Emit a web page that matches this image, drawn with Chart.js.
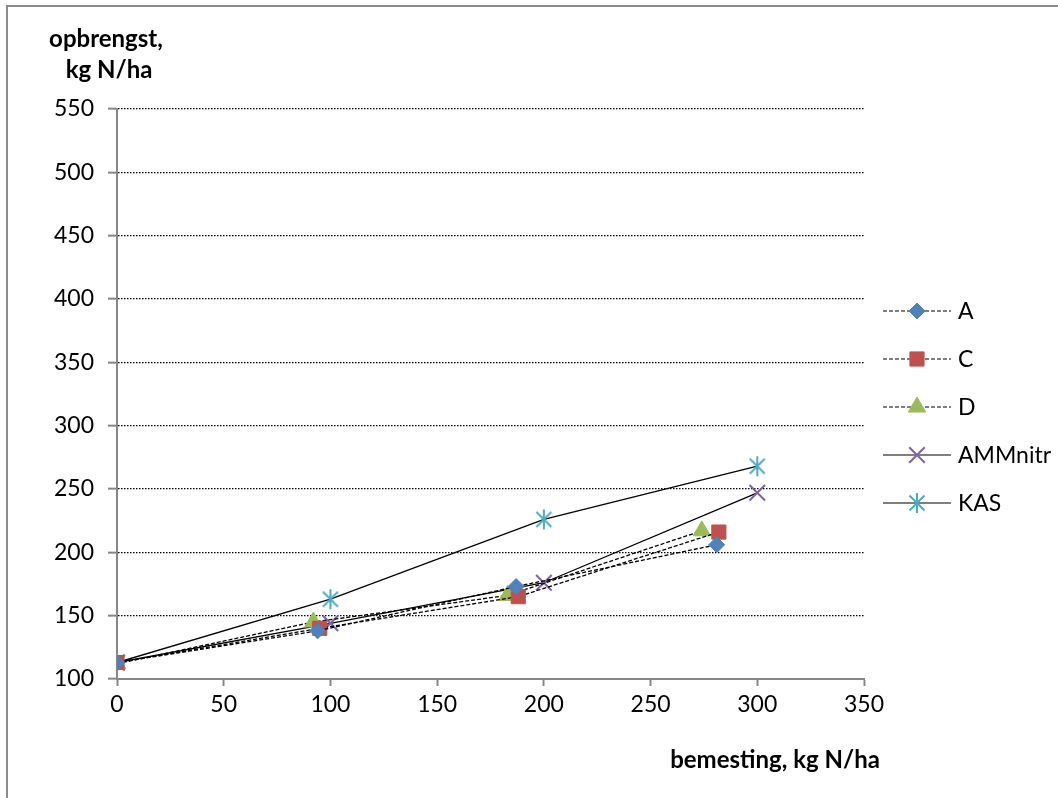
<!DOCTYPE html>
<html>
<head>
<meta charset="utf-8">
<script src="https://cdn.jsdelivr.net/npm/chart.js"></script>
<style>
  html, body { margin: 0; padding: 0; background: #fff; }
  #wrap { position: relative; width: 1058px; height: 798px; overflow: hidden; }
</style>
</head>
<body>
<div id="wrap"><canvas id="chart" width="1058" height="798"></canvas></div>
<script>
// series data
const seriesNames = ["A", "C", "D", "AMMnitr", "KAS"];
const xA = [0, 94, 187, 281];
const yA = [113, 138, 173, 206];
const xC = [0, 95, 188, 282];
const yC = [113, 140, 165, 216];
const xD = [0, 92, 183, 274];
const yD = [112, 145, 166, 217];
const xAmm = [0, 100, 200, 300];
const yAmm = [113, 144, 176, 247];
const xKas = [0, 100, 200, 300];
const yKas = [113, 163, 226, 268];

const xTicks = [0, 50, 100, 150, 200, 250, 300, 350];
const yTicks = [100, 150, 200, 250, 300, 350, 400, 450, 500, 550];

const yTitle = ["opbrengst,", "kg N/ha"];
const xTitle = "bemesting, kg N/ha";

const FONT = "Lato, 'Open Sans', sans-serif";

// Excel style asterisk marker (vertical stroke + X)
const makeStar = (color) => {
  const c = document.createElement("canvas");
  c.width = 24;
  c.height = 24;
  const g = c.getContext("2d");
  g.strokeStyle = color;
  g.lineWidth = 2;
  g.beginPath();
  g.moveTo(12, 2); g.lineTo(12, 22);
  g.moveTo(4.5, 4.5); g.lineTo(19.5, 19.5);
  g.moveTo(19.5, 4.5); g.lineTo(4.5, 19.5);
  g.stroke();
  return c;
};

const toPoints = (xs, ys) => xs.map((x, i) => ({ x: x, y: ys[i] }));

const styles = [
  { color: "#4F81BD", point: "rectRot", radius: 8, dash: [4, 2] },
  { color: "#C0504D", point: "rect", radius: 10, dash: [4, 2] },
  { color: "#9BBB59", point: "triangle", radius: 10, dash: [4, 2] },
  { color: "#8064A2", point: "crossRot", radius: 11, dash: [] },
  { color: "#4BACC6", point: makeStar("#4BACC6"), radius: 12, dash: [] },
];

const allData = [
  toPoints(xA, yA),
  toPoints(xC, yC),
  toPoints(xD, yD),
  toPoints(xAmm, yAmm),
  toPoints(xKas, yKas),
];

const datasets = seriesNames.map((name, i) => ({
  label: name,
  data: allData[i],
  showLine: true,
  borderColor: "#000",
  borderWidth: 1.3,
  borderDash: styles[i].dash,
  pointStyle: styles[i].point,
  pointRadius: styles[i].radius,
  pointHoverRadius: styles[i].radius,
  pointBackgroundColor: styles[i].color,
  pointBorderColor: styles[i].color,
  pointBorderWidth: i >= 3 ? 2 : 1,
}));

// frame, axis titles and the legend
const decorations = {
  id: "decorations",
  beforeDraw(chart) {
    const ctx = chart.ctx;
    ctx.save();
    ctx.strokeStyle = "#8c8c8c";
    ctx.lineWidth = 2;
    ctx.strokeRect(7, 6, 1200, 1000);
    ctx.restore();
  },
  afterDraw(chart) {
    const ctx = chart.ctx;
    ctx.save();
    ctx.fillStyle = "#000";
    ctx.font = "bold 24px " + FONT;
    ctx.textAlign = "center";
    ctx.textBaseline = "alphabetic";
    ctx.fillText(yTitle[0], 106, 47);
    ctx.fillText(yTitle[1], 109, 78);
    ctx.fillText(xTitle, 775, 768);

    // legend
    const top = 311;
    const gap = 48;
    chart.data.datasets.forEach((ds, i) => {
      const y = top + i * gap;
      ctx.strokeStyle = "#000";
      ctx.lineWidth = 1.2;
      ctx.setLineDash(ds.borderDash);
      ctx.beginPath();
      ctx.moveTo(883, y);
      ctx.lineTo(951, y);
      ctx.stroke();
      ctx.setLineDash([]);
      ctx.fillStyle = ds.pointBackgroundColor;
      ctx.strokeStyle = ds.pointBorderColor;
      ctx.lineWidth = ds.pointBorderWidth;
      Chart.helpers.drawPoint(ctx, { pointStyle: ds.pointStyle, radius: ds.pointRadius, rotation: 0, borderWidth: ds.pointBorderWidth }, 917, y);
      ctx.fillStyle = "#000";
      ctx.font = "23px " + FONT;
      ctx.textAlign = "left";
      ctx.textBaseline = "middle";
      ctx.fillText(ds.label, 958, y + 1);
    });
    ctx.restore();
  },
};

new Chart(document.getElementById("chart"), {
  type: "scatter",
  data: { datasets: datasets },
  plugins: [decorations],
  options: {
    responsive: false,
    animation: false,
    layout: { padding: { left: 0, top: 109, right: 194, bottom: 79 } },
    plugins: { legend: { display: false }, tooltip: { enabled: false } },
    scales: {
      x: {
        type: "linear",
        min: xTicks[0],
        max: xTicks[xTicks.length - 1],
        afterBuildTicks: (s) => { s.ticks = xTicks.map((v) => ({ value: v })); },
        afterFit: (s) => { s.height = 40; },
        border: { color: "#868686", width: 2 },
        grid: { drawOnChartArea: false, drawTicks: true, tickLength: 7, tickColor: "#868686", tickWidth: 2 },
        ticks: { color: "#000", font: { family: FONT, size: 23 }, padding: 5, maxRotation: 0 },
      },
      y: {
        type: "linear",
        min: yTicks[0],
        max: yTicks[yTicks.length - 1],
        afterBuildTicks: (s) => { s.ticks = yTicks.map((v) => ({ value: v })); },
        afterFit: (s) => { s.width = 117; },
        border: { color: "#868686", width: 2, dash: [1.5, 1.5] },
        grid: {
          color: "#000",
          lineWidth: 1.3,
          drawTicks: true,
          tickLength: 9,
          tickColor: "#868686",
          tickWidth: 2,
          tickBorderDash: [],
        },
        ticks: { color: "#000", font: { family: FONT, size: 23 }, padding: 14 },
      },
    },
  },
});
</script>
</body>
</html>
